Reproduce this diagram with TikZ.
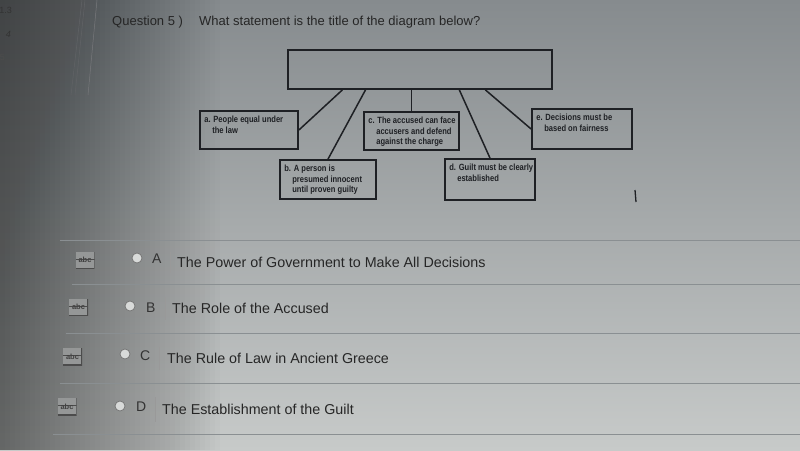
\documentclass[tikz,border=0pt]{standalone}
\usepackage{fontspec}
\setmainfont{Liberation Sans}
\newfontfamily\boxfont[FakeStretch=0.84]{Liberation Sans}
\usetikzlibrary{calc}
\definecolor{ink}{HTML}{1E2024}
\definecolor{screentop}{HTML}{868B8E}
\definecolor{screenmid}{HTML}{B3B6B6}
\definecolor{screenbot}{HTML}{C7CAC9}
\definecolor{rulegray}{HTML}{8A8F92}
\newcommand{\ind}{\hspace*{8pt}}

\begin{document}
\begin{tikzpicture}[x=1pt, y=-1pt,
    part/.style={draw=ink, line width=1.8pt, inner sep=0pt},
    lbl/.style={anchor=north west, align=left, inner xsep=5pt, inner ysep=6pt, text=ink,
        font=\boxfont\bfseries\fontsize{9}{10.3}\selectfont},
    link/.style={draw=ink, line width=1.5pt},
    strike/.style={fill=black!25!screenbot, minimum width=19pt, minimum height=17pt, inner sep=0pt,
        text=black!75, font=\bfseries\fontsize{7.5}{7.5}\selectfont,
        path picture={
            \draw[black!70, line width=0.6pt] ([yshift=1pt]path picture bounding box.west) -- ([yshift=1pt]path picture bounding box.east);
            \draw[black!70, line width=2pt] (path picture bounding box.south west) -- (path picture bounding box.south east) -- (path picture bounding box.north east);
        }},
    radio/.style={circle, draw=black!55, fill=white!30!screenbot, minimum size=10pt, inner sep=0pt, line width=0.7pt},
    letter/.style={anchor=base west, inner sep=0pt, text=black!80, font=\fontsize{14}{16}\selectfont},
    answer/.style={anchor=base west, inner sep=0pt, text=black!85, font=\fontsize{14.3}{17}\selectfont},
    bar/.style={draw=black!40, line width=0.7pt},
    rowrule/.style={draw=rulegray, line width=0.8pt}]

    \useasboundingbox (0,0) rectangle (800,450);
    \shade[top color=screentop, middle color=screenmid, bottom color=screenbot] (0,0) rectangle (800,450);
    \foreach \i in {0,...,43}
        \fill[black, opacity=0.01] (0,0) rectangle (220-5*\i,450);

    \draw[ink!70, line width=0.5pt] (82,0) -- (71,95);
    \draw[ink!70, line width=0.5pt] (85,0) -- (75,95);
    \draw[ink!60, line width=0.5pt] (97,0) -- (88,95);
    \node[anchor=base east, inner sep=0pt, font=\fontsize{9}{9}\selectfont, text=black!80] (pg) at (12,13) {1.3};
    \node[anchor=base east, inner sep=0pt, font=\itshape\fontsize{9}{9}\selectfont, text=black!80] (p4) at (11,37) {4};
    \node[anchor=base east, inner sep=0pt, font=\fontsize{9}{9}\selectfont, text=black!70] (p5) at (5,60) {5};

    \node[anchor=base west, inner sep=0pt, font=\fontsize{13}{15}\selectfont, text=black!85] (qn) at (112,25) {Question 5 )};
    \node[anchor=base west, inner sep=0pt, font=\fontsize{13}{15}\selectfont, text=black!85] (qt) at (199,25) {What statement is the title of the diagram below?};

    \node[part, minimum width=264pt, minimum height=39pt] (t) at (420,69.5) {};
    \node[part, minimum width=98pt, minimum height=38pt, label={[lbl]north west:{a. People equal under\\\ind the law}}] (a) at (249,130) {};
    \node[part, minimum width=96pt, minimum height=39pt, label={[lbl]north west:{b. A person is\\\ind presumed innocent\\\ind until proven guilty}}] (b) at (328,179.5) {};
    \node[part, minimum width=95pt, minimum height=38pt, label={[lbl]north west:{c. The accused can face\\\ind accusers and defend\\\ind against the charge}}] (c) at (411.5,131) {};
    \node[part, minimum width=90pt, minimum height=41pt, label={[lbl]north west:{d. Guilt must be clearly\\\ind established}}] (d) at (490,179.5) {};
    \node[part, minimum width=100pt, minimum height=40pt, label={[lbl]north west:{e. Decisions must be\\\ind based on fairness}}] (e) at (582,129) {};

    \draw[link] ($(t.south west)!0.208!(t.south east)$) -- (a.east);
    \draw[link] ($(t.south west)!0.295!(t.south east)$) -- (b.north);
    \draw[link] (c.north |- t.south) -- (c.north);
    \draw[link] ($(t.south west)!0.648!(t.south east)$) -- (d.north);
    \draw[link] ($(t.south west)!0.746!(t.south east)$) -- (e.west);

    \draw[ink, line width=1.3pt] (635,190) -- (636,202);

    \draw[rowrule] (60,240) -- (800,240);
    \draw[rowrule] (72,284) -- (800,284);
    \draw[rowrule] (66,333) -- (800,333);
    \draw[rowrule] (60,383) -- (800,383);
    \draw[rowrule] (53,434) -- (800,434);

    \node[strike] (sa) at (85,260) {abc};
    \node[strike] (sb) at (78.5,307) {abc};
    \node[strike] (sc) at (72.5,356.5) {abc};
    \node[strike] (sd) at (67,406.5) {abc};

    \node[radio] (ra) at (137,258) {};
    \node[radio] (rb) at (130,306) {};
    \node[radio] (rc) at (125,354) {};
    \node[radio] (rd) at (120,406) {};

    \node[letter] (la) at (152,263) {A};
    \node[letter] (lb) at (146,312) {B};
    \node[letter] (lc) at (140,360) {C};
    \node[letter] (ld) at (136,411) {D};

    \draw[bar] (170,252) -- (170,273);
    \draw[bar] (165,297) -- (165,320);
    \draw[bar] (159,347) -- (159,370);
    \draw[bar] (155,397) -- (155,422);

    \node[answer] (aa) at (177,267) {The Power of Government to Make All Decisions};
    \node[answer] (ab) at (172,313) {The Role of the Accused};
    \node[answer] (ac) at (167,363) {The Rule of Law in Ancient Greece};
    \node[answer] (ad) at (162,414) {The Establishment of the Guilt};
\end{tikzpicture}
\end{document}
